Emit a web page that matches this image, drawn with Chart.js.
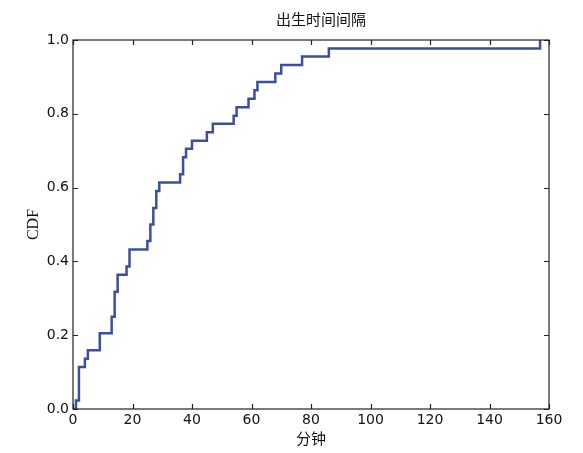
<!DOCTYPE html>
<html>
<head>
<meta charset="utf-8">
<script src="https://cdn.jsdelivr.net/npm/chart.js@4.4.0/dist/chart.umd.min.js"></script>
<style>
  html, body { margin: 0; padding: 0; background: #fff; }
  #wrap { width: 583px; height: 453px; }
</style>
</head>
<body>
<div id="wrap"><canvas id="graficoCdf"></canvas></div>
<script>
// intervalos (minutos) onde a CDF sobe, e o valor da CDF depois de cada degrau
const stepMinutes = [1, 2, 4, 5, 9, 13, 14, 15, 18, 19, 25, 26, 27, 28, 29, 36, 37, 38, 40, 45, 47, 54, 55, 59, 61, 62, 68, 70, 77, 86, 157];
const cdfValues = [0.023, 0.114, 0.136, 0.159, 0.205, 0.25, 0.318, 0.364, 0.386, 0.432, 0.455, 0.5, 0.545, 0.591, 0.614, 0.636, 0.682, 0.705, 0.727, 0.75, 0.773, 0.795, 0.818, 0.841, 0.864, 0.886, 0.909, 0.932, 0.955, 0.977, 1.0];
const xTicks = [0, 20, 40, 60, 80, 100, 120, 140, 160];
const yTicks = [0.0, 0.2, 0.4, 0.6, 0.8, 1.0];
const titulo = '出生时间间隔';
const xLabel = '分钟';
const yLabel = 'CDF';

document.addEventListener("DOMContentLoaded", () => {
    const pontos = [{ x: stepMinutes[0], y: 0 }];
    stepMinutes.forEach((m, i) => pontos.push({ x: m, y: cdfValues[i] }));

    const tickFont = { family: 'DejaVu Sans', size: 14 };

    // moldura, ticks para dentro e título (estilo matplotlib antigo)
    const molduraPlugin = {
        id: 'moldura',
        afterDatasetsDraw(chart) {
            const { ctx, chartArea: a, scales } = chart;
            ctx.save();
            ctx.strokeStyle = '#222';
            ctx.lineWidth = 1.2;
            ctx.strokeRect(a.left, a.top, a.right - a.left, a.bottom - a.top);
            const len = 5;
            ctx.beginPath();
            xTicks.forEach(v => {
                const px = Math.round(scales.x.getPixelForValue(v)) + 0.5;
                ctx.moveTo(px, a.bottom); ctx.lineTo(px, a.bottom - len);
                ctx.moveTo(px, a.top); ctx.lineTo(px, a.top + len);
            });
            yTicks.forEach(v => {
                const py = Math.round(scales.y.getPixelForValue(v)) + 0.5;
                ctx.moveTo(a.left, py); ctx.lineTo(a.left + len, py);
                ctx.moveTo(a.right, py); ctx.lineTo(a.right - len, py);
            });
            ctx.stroke();
            ctx.fillStyle = '#111';
            ctx.font = '15px "Noto Sans CJK SC"';
            ctx.textAlign = 'center';
            ctx.textBaseline = 'middle';
            ctx.fillText(titulo, 321, 19);
            ctx.restore();
        }
    };

    new Chart(document.getElementById('graficoCdf'), {
        type: 'line',
        data: {
            datasets: [{
                data: pontos,
                stepped: 'before',
                borderColor: '#3b4f9e',
                borderWidth: 2.5,
                pointRadius: 0,
                fill: false
            }]
        },
        options: {
            responsive: true,
            maintainAspectRatio: false,
            animation: false,
            layout: { padding: { top: 40, right: 34, left: 0, bottom: 0 } },
            plugins: { legend: { display: false }, tooltip: { enabled: false } },
            scales: {
                x: {
                    type: 'linear',
                    min: 0, max: 160,
                    afterBuildTicks: s => { s.ticks = xTicks.map(v => ({ value: v })); },
                    afterFit: s => { s.height = 44; },
                    grid: { display: false, drawTicks: false },
                    border: { display: false },
                    ticks: { color: '#111', font: tickFont, padding: 3, maxRotation: 0 },
                    title: { display: true, text: xLabel, color: '#111', font: { family: 'Noto Sans CJK SC', size: 15 }, padding: { top: 0, bottom: 6 } }
                },
                y: {
                    min: 0, max: 1,
                    afterBuildTicks: s => { s.ticks = yTicks.map(v => ({ value: v })); },
                    afterFit: s => { s.width = 73; },
                    grid: { display: false, drawTicks: false },
                    border: { display: false },
                    ticks: { color: '#111', font: tickFont, padding: 4, callback: v => v.toFixed(1) },
                    title: { display: true, text: yLabel, color: '#111', font: { family: 'Liberation Serif', size: 16 }, padding: { top: 24, bottom: 0 } }
                }
            }
        },
        plugins: [molduraPlugin]
    });
});
</script>
</body>
</html>
